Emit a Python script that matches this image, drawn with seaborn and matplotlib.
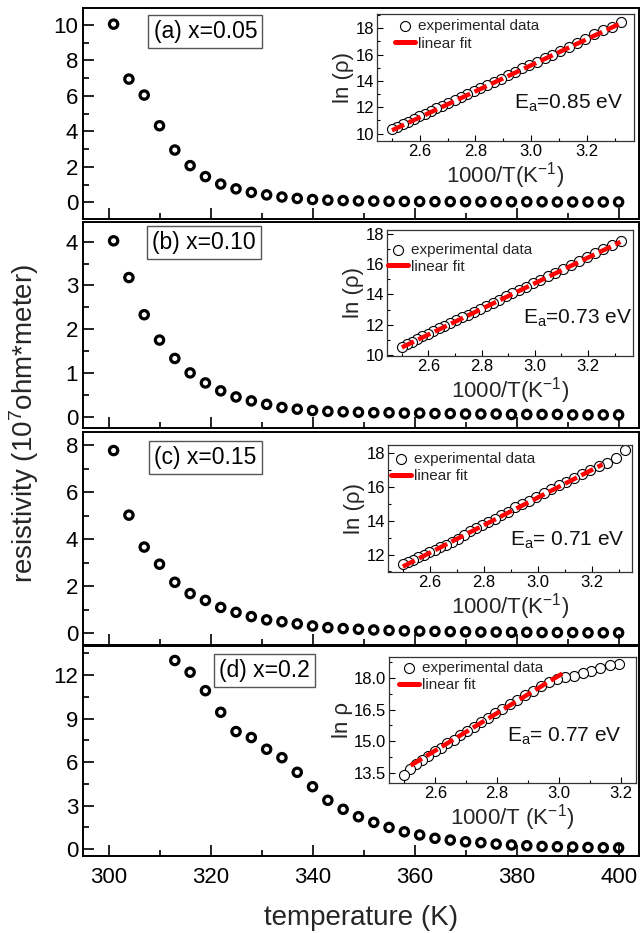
import numpy as np
import pandas as pd
import matplotlib
matplotlib.use("Agg")
import matplotlib.pyplot as plt
import seaborn as sns
from matplotlib.ticker import MultipleLocator

# ---------------- data ----------------
temperature = [301, 304, 307, 310, 313, 316, 319, 322, 325, 328, 331, 334, 337, 340,
               343, 346, 349, 352, 355, 358, 361, 364, 367, 370, 373, 376, 379, 382,
               385, 388, 391, 394, 397, 400]

rho_a = [10.05, 6.95, 6.05, 4.32, 2.95, 2.07, 1.45, 1.03, 0.76, 0.56, 0.42, 0.30, 0.22, 0.16,
         0.12, 0.10, 0.08, 0.07, 0.06, 0.05, 0.05, 0.04, 0.04, 0.04, 0.03, 0.03, 0.03, 0.03,
         0.03, 0.02, 0.02, 0.02, 0.02, 0.02]
rho_b = [4.02, 3.18, 2.33, 1.75, 1.33, 1.00, 0.77, 0.59, 0.45, 0.36, 0.28, 0.21, 0.17, 0.14,
         0.12, 0.11, 0.10, 0.09, 0.09, 0.08, 0.08, 0.07, 0.07, 0.06, 0.06, 0.06, 0.05, 0.05,
         0.05, 0.05, 0.04, 0.04, 0.04, 0.04]
rho_c = [7.78, 5.03, 3.67, 2.94, 2.17, 1.69, 1.40, 1.10, 0.89, 0.71, 0.57, 0.49, 0.40, 0.31,
         0.24, 0.20, 0.17, 0.14, 0.12, 0.10, 0.09, 0.08, 0.07, 0.06, 0.05, 0.05, 0.04, 0.04,
         0.03, 0.03, 0.03, 0.02, 0.02, 0.02]
# panel (d): points from 313 K on (earlier ones are off scale)
temperature_d = [313, 316, 319, 322, 325, 328, 331, 334, 337, 340, 343, 346, 349, 352, 355,
                 358, 361, 364, 367, 370, 373, 376, 379, 382, 385, 388, 391, 394, 397, 400]
rho_d = [13.0, 12.19, 10.92, 9.43, 8.10, 7.69, 6.88, 6.30, 5.29, 4.30, 3.36, 2.74, 2.23, 1.84,
         1.49, 1.19, 0.97, 0.74, 0.62, 0.50, 0.44, 0.34, 0.28, 0.23, 0.18, 0.16, 0.14, 0.11,
         0.09, 0.08]

# insets: ln(rho) vs 1000/T
ln_a = [18.45, 18.10, 17.85, 17.55, 17.20, 16.90, 16.60, 16.30, 15.98, 15.72, 15.45, 15.20,
        14.95, 14.70, 14.42, 14.18, 13.93, 13.68, 13.45, 13.22, 12.98, 12.75, 12.53, 12.33,
        12.12, 11.92, 11.70, 11.50, 11.30, 11.08, 10.88, 10.70, 10.50, 10.32]
ln_b = [17.52, 17.25, 17.00, 16.72, 16.45, 16.20, 15.95, 15.70, 15.45, 15.22, 14.98, 14.75,
        14.52, 14.30, 14.08, 13.88, 13.66, 13.45, 13.25, 13.05, 12.86, 12.66, 12.48, 12.28,
        12.10, 11.92, 11.75, 11.57, 11.40, 11.22, 11.05, 10.88, 10.72, 10.55]
ln_c = [18.18, 17.70, 17.40, 17.25, 17.02, 16.78, 16.55, 16.32, 16.10, 15.88, 15.65, 15.42,
        15.20, 15.02, 14.80, 14.55, 14.35, 14.12, 13.95, 13.78, 13.58, 13.40, 13.18, 12.95,
        12.75, 12.58, 12.45, 12.30, 12.15, 12.00, 11.85, 11.70, 11.58, 11.45]
ln_d = [18.68, 18.62, 18.50, 18.35, 18.22, 18.12, 18.05, 17.95, 17.80, 17.60, 17.38, 17.18,
        16.95, 16.75, 16.55, 16.32, 16.12, 15.90, 15.68, 15.48, 15.28, 15.08, 14.90, 14.70,
        14.52, 14.30, 14.10, 13.90, 13.69, 13.40]

# linear-fit end points (1000/T, ln rho)
fit_a_x, fit_a_y = [2.50, 3.322], [10.25, 18.37]
fit_b_x, fit_b_y = [2.50, 3.322], [10.50, 17.47]
fit_c_x, fit_c_y = [2.50, 3.240], [11.29, 17.34]
fit_d_x, fit_d_y = [2.52, 3.020], [13.85, 18.29]

panel_labels = ["(a) x=0.05", "(b) x=0.10", "(c) x=0.15", "(d) x=0.2"]
ea_labels = [r"E$_\mathregular{a}$=0.85 eV", r"E$_\mathregular{a}$=0.73 eV",
             r"E$_\mathregular{a}$= 0.71 eV", r"E$_\mathregular{a}$= 0.77 eV"]

# ---------------- style ----------------
sns.set_theme(style="ticks")
plt.rcParams["font.family"] = ["Liberation Sans", "DejaVu Sans"]
plt.rcParams["mathtext.fontset"] = "custom"
plt.rcParams["mathtext.rm"] = "Liberation Sans"
plt.rcParams["mathtext.it"] = "Liberation Sans:italic"
plt.rcParams["mathtext.bf"] = "Liberation Sans:bold"
plt.rcParams["axes.facecolor"] = "white"

W, H = 641, 933
fig = plt.figure(figsize=(W / 100, H / 100), dpi=100)


def rect(l, r, t, b):
    return [l / W, 1 - b / H, (r - l) / W, (b - t) / H]


main_rects = [rect(83, 639, 8, 219), rect(83, 639, 222, 428),
              rect(83, 639, 432, 645), rect(83, 639, 646, 856)]
main_ylims = [(-0.94, 10.96), (-0.26, 4.45), (-0.5, 8.57), (-0.48, 14.0)]
main_major = [2, 1, 2, 3]
main_minor = [1, 0.5, 1, 1.5]
main_x = [temperature, temperature, temperature, temperature_d]
main_y = [rho_a, rho_b, rho_c, rho_d]
box_pos = [(0.22, 0.889), (0.217, 0.899), (0.22, 0.882), (0.327, 0.883)]

inset_rects = [rect(377, 634, 14, 141), rect(387, 633, 230, 356),
               rect(388, 632, 445, 572), rect(389, 636, 657, 783)]
inset_xlims = [(2.446, 3.37), (2.444, 3.369), (2.445, 3.349), (2.45, 3.25)]
inset_ylims = [(9.44, 19.08), (9.93, 18.26), (10.97, 18.49), (13.02, 19.0)]
inset_major = [2, 2, 2, 1.5]
inset_minor = [1, 1, 1, 0.75]
inset_T = [temperature, temperature, temperature, temperature_d]
inset_ln = [ln_a, ln_b, ln_c, ln_d]
fits = [(fit_a_x, fit_a_y), (fit_b_x, fit_b_y), (fit_c_x, fit_c_y), (fit_d_x, fit_d_y)]
inset_ylabels = ["ln (\u03c1)", "ln (\u03c1)", "ln (\u03c1)", "ln \u03c1"]
inset_xlabels = [r"1000/T(K$^\mathregular{-1}$)"] * 3 + [r"1000/T (K$^\mathregular{-1}$)"]
legend_anchor = [(0.07, 0.957), (0.004, 0.90), (0.011, 0.945), (0.04, 0.966)]
ea_pos = [(0.958, 0.257), (0.995, 0.254), (0.971, 0.205), (0.942, 0.328)]

for i in range(4):
    ax = fig.add_axes(main_rects[i])
    df = pd.DataFrame({"T": main_x[i], "rho": main_y[i]})
    sns.scatterplot(data=df, x="T", y="rho", ax=ax, marker="o", s=36,
                    facecolor="none", edgecolor="black", linewidth=2.3, zorder=3)
    ax.set_xlim(295, 404)
    ax.set_ylim(*main_ylims[i])
    ax.xaxis.set_major_locator(MultipleLocator(20))
    ax.xaxis.set_minor_locator(MultipleLocator(10))
    ax.yaxis.set_major_locator(MultipleLocator(main_major[i]))
    ax.yaxis.set_minor_locator(MultipleLocator(main_minor[i]))
    ax.tick_params(which="both", direction="in", width=1.2, colors="black",
                   labelsize=16, top=False, right=False)
    ax.tick_params(which="major", length=8)
    ax.tick_params(which="minor", length=4)
    ax.tick_params(axis="x", pad=8)
    if i < 3:
        ax.tick_params(axis="x", labelbottom=False)
    ax.set_xlabel("")
    ax.set_ylabel("")
    for sp in ax.spines.values():
        sp.set_visible(True)
        sp.set_linewidth(1.4)
        sp.set_color("black")
    ax.text(box_pos[i][0], box_pos[i][1], panel_labels[i], transform=ax.transAxes,
            ha="center", va="center", fontsize=16.5, color="black",
            bbox=dict(boxstyle="square,pad=0.22", facecolor="white",
                      edgecolor="#555555", linewidth=1.0))

    # inset
    ins = fig.add_axes(inset_rects[i])
    dfi = pd.DataFrame({"invT": [1000.0 / t for t in inset_T[i]], "lnrho": inset_ln[i]})
    sns.scatterplot(data=dfi, x="invT", y="lnrho", ax=ins, marker="o", s=52,
                    facecolor="white", edgecolor="black", linewidth=0.8,
                    label="experimental data", zorder=2)
    dff = pd.DataFrame({"x": fits[i][0], "y": fits[i][1]})
    sns.lineplot(data=dff, x="x", y="y", ax=ins, color="red", linewidth=3.2,
                 linestyle=(0, (3.0, 1.1)), label="linear fit", zorder=3)
    ins.set_xlim(*inset_xlims[i])
    ins.set_ylim(*inset_ylims[i])
    ins.xaxis.set_major_locator(MultipleLocator(0.2))
    ins.xaxis.set_minor_locator(MultipleLocator(0.1))
    ins.yaxis.set_major_locator(MultipleLocator(inset_major[i]))
    ins.yaxis.set_minor_locator(MultipleLocator(inset_minor[i]))
    ins.tick_params(which="both", direction="in", width=0.8, colors="black",
                    labelsize=12, top=False, right=False, pad=2)
    ins.tick_params(which="major", length=4)
    ins.tick_params(which="minor", length=2)
    for sp in ins.spines.values():
        sp.set_visible(True)
        sp.set_linewidth(0.9)
        sp.set_color("#333333")
    ins.set_xlabel(inset_xlabels[i], fontsize=16, labelpad=1)
    ins.set_ylabel(inset_ylabels[i], fontsize=16, labelpad=1)
    handles, labels = ins.get_legend_handles_labels()
    leg = ins.legend(handles, labels, loc="upper left", bbox_to_anchor=legend_anchor[i],
                     frameon=False, fontsize=11, handlelength=1.3, handletextpad=0.2,
                     labelspacing=0.2, borderpad=0, borderaxespad=0, markerscale=1.0)
    for ln in leg.get_lines():
        ln.set_linestyle("-")
        ln.set_linewidth(3.6)
    ins.text(ea_pos[i][0], ea_pos[i][1], ea_labels[i], transform=ins.transAxes,
             ha="right", va="baseline", fontsize=15, color="#111111")

fig.text(361 / W, 1 - 918 / H, "temperature (K)", ha="center", va="center", fontsize=20)
fig.text(24 / W, 1 - 423 / H, r"resistivity (10$^\mathregular{7}$ohm*meter)",
         ha="center", va="center", rotation=90, fontsize=20)

fig.savefig("out.png", dpi=100, facecolor="white")
